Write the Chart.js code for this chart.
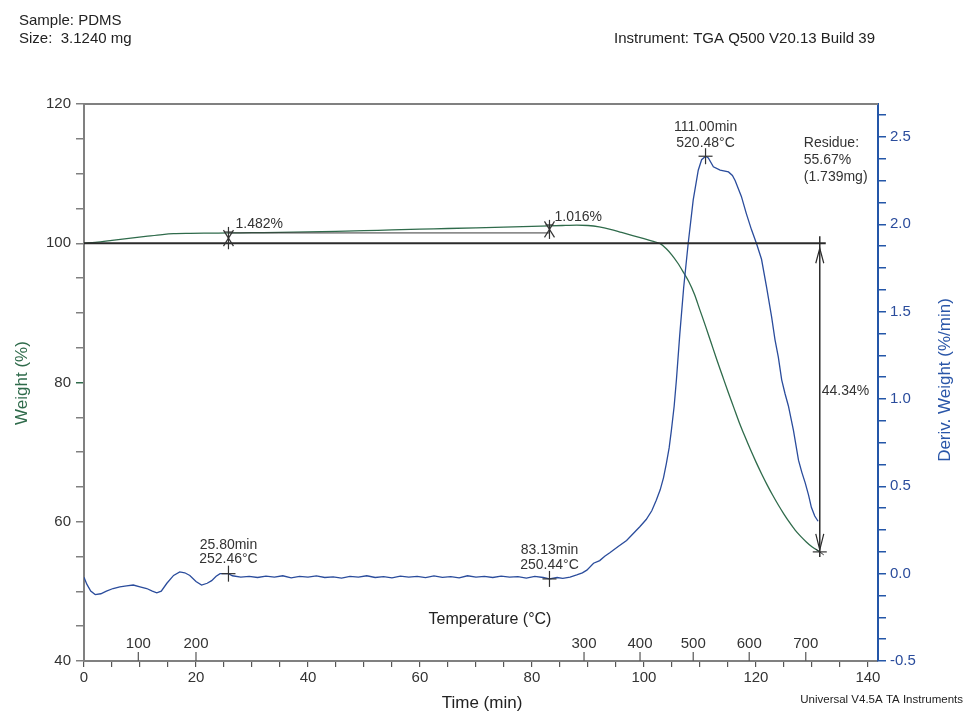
<!DOCTYPE html>
<html>
<head>
<meta charset="utf-8">
<script src="https://cdn.jsdelivr.net/npm/chart.js@4.4.1/dist/chart.umd.min.js"></script>
<style>
  body { margin: 0; background: #fff; }
  canvas { display: block; }
</style>
</head>
<body>
<canvas id="tga" width="965" height="713"></canvas>
<script>
// weight curve (time min, weight %)
const weightTime = [0, 2, 5, 8, 11, 14, 16, 19, 22, 25.8, 30, 35, 40, 45, 50, 55, 60, 65, 70, 75, 80, 83.13, 86, 88, 90, 92, 94, 96, 98, 100, 101.5, 102.9, 104, 105, 106, 107, 108, 109, 110, 111, 112, 113, 114, 115, 116, 117, 118, 119, 120, 121, 122, 123, 124, 125, 126, 127, 128, 129, 130, 131.4];
const weightPct = [100.0, 100.12, 100.4, 100.7, 100.98, 101.25, 101.37, 101.42, 101.45, 101.48, 101.52, 101.56, 101.62, 101.7, 101.8, 101.92, 102.02, 102.12, 102.22, 102.32, 102.42, 102.5, 102.56, 102.6, 102.55, 102.35, 102.0, 101.55, 101.1, 100.65, 100.3, 99.95, 99.2, 98.3, 97.2, 95.9, 94.5, 92.7, 90.4, 88.1, 85.7, 83.3, 81.0, 78.7, 76.5, 74.3, 72.3, 70.4, 68.6, 66.9, 65.3, 63.8, 62.4, 61.1, 59.9, 58.8, 57.9, 57.1, 56.4, 55.67];

// derivative curve (time min, %/min)
const derivTime = [0, 0.5, 1.2, 2, 3, 4, 5.2, 6.4, 7.6, 8.8, 10, 11.2, 12.2, 13, 13.8, 14.8, 16, 17.1, 18, 18.9, 20, 21, 22, 22.8, 23.6, 24.3, 25.8,
  26.5, 28, 29.5, 31, 32.5, 34, 35.5, 37, 38.5, 40, 41.5, 43, 44.5, 46, 47.5, 49, 50.5, 52, 53.5, 55, 56.5, 58, 59.5, 61, 62.5, 64, 65.5, 67, 68.5, 70, 71.5, 73, 74.5, 76, 77.5, 79, 80.5, 82, 83.13, 84.5, 85.5, 86.8,
  88, 89, 89.8, 91, 92.1, 93, 93.9, 95.4, 96.9, 98.1, 99.3, 100.4, 101.4, 102.2, 102.9, 103.5, 104, 104.5, 104.9, 105.4, 105.8, 106.4, 107.1, 107.9, 108.8, 109.7, 110.3, 111.0, 111.5, 112.4, 113.6, 115.1, 115.8, 116.3, 117.4, 118.3, 119.2, 120.1, 121, 121.9, 122.8, 123.4, 124.0, 124.6, 125.2, 125.8, 126.7, 127.6, 128.2, 128.8, 129.4, 129.9, 130.5, 131.1];
const derivVal = [-0.02, -0.06, -0.1, -0.12, -0.115, -0.1, -0.085, -0.075, -0.07, -0.065, -0.075, -0.085, -0.1, -0.11, -0.1, -0.055, -0.01, 0.01, 0.005, -0.01, -0.045, -0.065, -0.055, -0.04, -0.015, 0.0, 0.0,
  -0.012, -0.02, -0.015, -0.022, -0.014, -0.02, -0.012, -0.024, -0.016, -0.02, -0.013, -0.022, -0.018, -0.025, -0.015, -0.02, -0.012, -0.022, -0.017, -0.024, -0.014, -0.02, -0.016, -0.023, -0.013, -0.021, -0.017, -0.024, -0.012, -0.02, -0.016, -0.022, -0.014, -0.02, -0.017, -0.025, -0.015, -0.022, -0.03, -0.022, -0.027, -0.02,
  -0.007, 0.005, 0.02, 0.06, 0.075, 0.1, 0.12, 0.155, 0.19, 0.23, 0.27, 0.31, 0.36, 0.42, 0.48, 0.55, 0.63, 0.72, 0.82, 0.96, 1.11, 1.37, 1.64, 1.89, 2.14, 2.31, 2.37, 2.39, 2.38, 2.33, 2.31, 2.30, 2.28, 2.25, 2.16, 2.06, 1.97, 1.89, 1.80, 1.64, 1.47, 1.34, 1.24, 1.11, 1.03, 0.96, 0.82, 0.65, 0.58, 0.52, 0.45, 0.38, 0.33, 0.30];

// axis ticks
const timeTicks = [0, 5, 10, 15, 20, 25, 30, 35, 40, 45, 50, 55, 60, 65, 70, 75, 80, 85, 90, 95, 100, 105, 110, 115, 120, 125, 130, 135, 140];
const weightTicks = [40, 45, 50, 55, 60, 65, 70, 75, 80, 85, 90, 95, 100, 105, 110, 115, 120];
const derivTicks = [-0.5, -0.375, -0.25, -0.125, 0, 0.125, 0.25, 0.375, 0.5, 0.625, 0.75, 0.875, 1, 1.125, 1.25, 1.375, 1.5, 1.625, 1.75, 1.875, 2, 2.125, 2.25, 2.375, 2.5, 2.625];
const tempLabels = [100, 200, 300, 400, 500, 600, 700];
const tempTimes = [9.7, 20, 89.3, 99.3, 108.8, 118.8, 128.9];

// analysis results
const step1 = { time: 25.8, from: 100, to: 101.482, label: "1.482%" };
const step2 = { time: 83.13, from: 101.482, to: 102.498, label: "1.016%" };
const peak = { time: 111.0, value: 2.39, lines: ["111.00min", "520.48°C"] };
const onset1 = { time: 25.8, value: 0.0, lines: ["25.80min", "252.46°C"] };
const onset2 = { time: 83.13, value: -0.03, lines: ["83.13min", "250.44°C"] };
const residue = { time: 131.4, value: 55.67, loss: "44.34%", lines: ["Residue:", "55.67%", "(1.739mg)"] };

const green = "#2f6b4b";
const blue = "#2a4c9c";
const axisGray = "#808080";
const font = '"Liberation Sans", Arial, sans-serif';

const annotations = {
  id: "annotations",
  afterDatasetsDraw(chart) {
    const { ctx, chartArea: a } = chart;
    const x = chart.scales.x, y = chart.scales.y, y1 = chart.scales.y1;

    const line = (x1, yA, x2, yB, color, w) => {
      ctx.beginPath();
      ctx.strokeStyle = color;
      ctx.lineWidth = w;
      ctx.moveTo(x1, yA);
      ctx.lineTo(x2, yB);
      ctx.stroke();
    };
    const text = (s, px, py, opts) => {
      ctx.font = (opts.size || 14) + "px " + font;
      ctx.fillStyle = opts.color || "#333";
      ctx.textAlign = opts.align || "left";
      ctx.textBaseline = "middle";
      ctx.fillText(s, px, py);
    };
    const plus = (px, py) => {
      line(px, py - 8, px, py + 8, "#333", 1.2);
      line(px - 7, py, px + 7, py, "#333", 1.2);
    };

    ctx.save();

    // top frame line
    line(a.left, a.top, a.right, a.top, axisGray, 2);

    // 100% baseline
    const resX = x.getPixelForValue(residue.time);
    const y100 = y.getPixelForValue(100);
    const yRes = y.getPixelForValue(residue.value);
    line(a.left, y100, resX + 6, y100, "#2b2b2b", 2);

    // step line between the two step markers
    const s1x = x.getPixelForValue(step1.time);
    const s2x = x.getPixelForValue(step2.time);
    const yS = y.getPixelForValue(step1.to);
    line(s1x, yS, s2x, yS, "#3a3a3a", 1);

    const stepMark = (px, lo, hi) => {
      const yl = y.getPixelForValue(lo), yh = y.getPixelForValue(hi);
      const mid = (yl + yh) / 2;
      line(px, yh - 6, px, yl + 6, "#333", 1.2);
      line(px - 5, mid - 8, px + 5, mid + 8, "#333", 1.2);
      line(px + 5, mid - 8, px - 5, mid + 8, "#333", 1.2);
      line(px - 4, yh - 1, px + 4, yh - 1, "#333", 1);
    };
    stepMark(s1x, step1.from, step1.to);
    stepMark(s2x, step2.from, step2.to);
    text(step1.label, s1x + 7, y.getPixelForValue(step1.to) - 9, {});
    text(step2.label, s2x + 5, y.getPixelForValue(step2.to) - 9, {});

    // residue arrow
    line(resX, y100 - 7, resX, yRes + 5, "#2b2b2b", 1.5);
    ctx.beginPath();
    ctx.strokeStyle = "#2b2b2b";
    ctx.lineWidth = 1.2;
    ctx.moveTo(resX - 4, y100 + 20); ctx.lineTo(resX, y100 + 5); ctx.lineTo(resX + 4, y100 + 20);
    ctx.moveTo(resX - 4, yRes - 18); ctx.lineTo(resX, yRes - 2); ctx.lineTo(resX + 4, yRes - 18);
    ctx.stroke();
    line(resX - 7, yRes, resX + 7, yRes, "#333", 1.2);
    line(resX - 4, yRes - 3, resX + 4, yRes + 3, "#333", 1);
    text(residue.loss, resX + 2, y.getPixelForValue(78.7), {});
    residue.lines.forEach((s, i) => text(s, resX - 16, 143 + i * 17, {}));

    // derivative peak and onset marks
    const marks = [
      { m: peak, gap: 13, lead: 16 },
      { m: onset1, gap: 15, lead: 14 },
      { m: onset2, gap: 14, lead: 15 },
    ];
    marks.forEach(({ m, gap, lead }) => {
      const px = x.getPixelForValue(m.time), py = y1.getPixelForValue(m.value);
      plus(px, py);
      text(m.lines[0], px, py - gap - lead, { align: "center" });
      text(m.lines[1], px, py - gap, { align: "center" });
    });

    // temperature ticks along the time axis
    tempTimes.forEach((t, i) => {
      const px = x.getPixelForValue(t);
      line(px, a.bottom, px, a.bottom - 9, "#555", 1.2);
      text(String(tempLabels[i]), px, a.bottom - 17, { size: 15, align: "center", color: "#333" });
    });
    text("Temperature (°C)", 490, 620, { size: 16, align: "center", color: "#222" });

    ctx.restore();
  },
  afterDraw(chart) {
    const { ctx } = chart;
    ctx.save();
    ctx.textBaseline = "middle";
    ctx.fillStyle = "#222";
    ctx.font = "15px " + font;
    ctx.textAlign = "left";
    ctx.fillText("Sample: PDMS", 19, 21);
    ctx.fillText("Size:  3.1240 mg", 19, 39);
    ctx.fillText("Instrument: TGA Q500 V20.13 Build 39", 614, 39);
    ctx.font = "11.5px " + font;
    ctx.textAlign = "right";
    ctx.fillText("Universal V4.5A TA Instruments", 963, 700);
    ctx.font = "17px " + font;
    ctx.textAlign = "center";
    ctx.fillText("Time (min)", 482, 703);

    ctx.save();
    ctx.translate(22, 383);
    ctx.rotate(-Math.PI / 2);
    ctx.fillStyle = green;
    ctx.fillText("Weight (%)", 0, 0);
    ctx.restore();

    ctx.save();
    ctx.translate(945, 380);
    ctx.rotate(-Math.PI / 2);
    ctx.fillStyle = "#2a56a8";
    ctx.fillText("Deriv. Weight (%/min)", 0, 0);
    ctx.restore();
    ctx.restore();
  }
};

const ctx = document.getElementById("tga").getContext("2d");
new Chart(ctx, {
  type: "line",
  data: {
    datasets: [
      {
        label: "Deriv. Weight",
        data: derivTime.map((t, i) => ({ x: t, y: derivVal[i] })),
        yAxisID: "y1",
        borderColor: blue,
        borderWidth: 1.3,
        tension: 0,
        pointRadius: 0,
      },
      {
        label: "Weight",
        data: weightTime.map((t, i) => ({ x: t, y: weightPct[i] })),
        yAxisID: "y",
        borderColor: green,
        borderWidth: 1.3,
        cubicInterpolationMode: "monotone",
        pointRadius: 0,
      },
    ],
  },
  options: {
    responsive: false,
    animation: false,
    layout: { padding: { top: 104, left: 0, right: 0, bottom: 0 } },
    plugins: { legend: { display: false }, tooltip: { enabled: false } },
    scales: {
      x: {
        type: "linear",
        min: 0,
        max: 141.8,
        afterBuildTicks: (s) => { s.ticks = timeTicks.map((v) => ({ value: v })); },
        afterFit: (s) => { s.height = 52; },
        ticks: {
          autoSkip: false,
          maxRotation: 0,
          padding: 2,
          color: "#333",
          font: { family: font, size: 15 },
          callback: (v) => (v % 20 === 0 ? v : ""),
        },
        grid: { drawOnChartArea: false, tickLength: 6, tickColor: "#555", lineWidth: 1.2 },
        border: { color: axisGray, width: 2 },
      },
      y: {
        position: "left",
        min: 40,
        max: 120,
        afterBuildTicks: (s) => { s.ticks = weightTicks.map((v) => ({ value: v })); },
        afterFit: (s) => { s.width = 84; },
        ticks: {
          autoSkip: false,
          padding: 5,
          color: "#333",
          font: { family: font, size: 15 },
          callback: (v) => (v % 20 === 0 ? v : ""),
        },
        grid: {
          drawOnChartArea: false,
          tickLength: 8,
          lineWidth: 1.5,
          tickColor: (c) => (c.tick && c.tick.value === 80 ? green : axisGray),
        },
        border: { color: axisGray, width: 2 },
      },
      y1: {
        position: "right",
        min: -0.5,
        max: 2.689,
        afterBuildTicks: (s) => { s.ticks = derivTicks.map((v) => ({ value: v })); },
        afterFit: (s) => { s.width = 87; },
        ticks: {
          autoSkip: false,
          padding: 4,
          color: "#2a4c9c",
          font: { family: font, size: 15 },
          callback: (v) => (Math.abs(v * 2 - Math.round(v * 2)) < 1e-6 ? v.toFixed(1) : ""),
        },
        grid: { drawOnChartArea: false, tickLength: 8, lineWidth: 1.5, tickColor: "#2456a8" },
        border: { color: "#2456a8", width: 2 },
      },
    },
  },
  plugins: [annotations],
});
</script>
</body>
</html>
